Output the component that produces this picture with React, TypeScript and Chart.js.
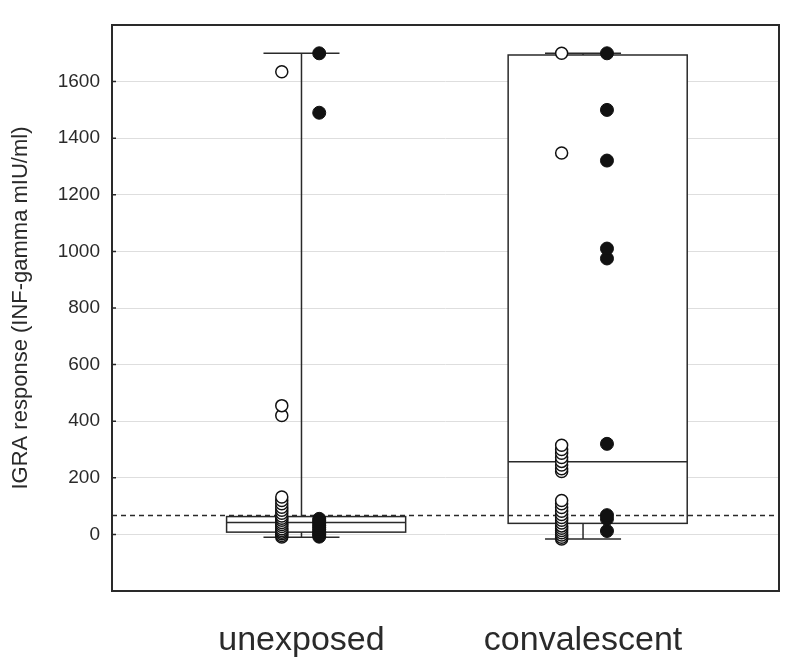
import React, { useEffect, useRef } from "react";
import { Chart, registerables } from "chart.js";

Chart.register(...registerables);

// ---- data ----
const CATEGORIES = ["unexposed", "convalescent"];
const Y_TICKS = [0, 200, 400, 600, 800, 1000, 1200, 1400, 1600];

const UNEXPOSED_OPEN = [-9, -4, 2, 8, 14, 20, 28, 35, 42, 50, 57, 65, 75, 85, 96, 108, 120, 132, 420, 455, 1635];
const UNEXPOSED_FILLED = [-8, -2, 4, 10, 18, 25, 32, 40, 48, 55, 1490, 1700];
const CONVALESCENT_OPEN = [-16, -10, -2, 6, 14, 22, 30, 40, 50, 60, 70, 82, 95, 108, 120, 222, 232, 245, 258, 272, 287, 300, 315, 1348, 1700];
const CONVALESCENT_FILLED = [12, 55, 68, 320, 975, 1010, 1321, 1500, 1700];

const BOX_Q1 = [8, 39];
const BOX_MEDIAN = [42, 257];
const BOX_Q3 = [63, 1694];
const WHISKER_LOW = [-10, -16];
const WHISKER_HIGH = [1700, 1700];
const CUTOFF = 67;

// ---- layout constants (in x-scale units relative to category centre) ----
const OPEN_OFFSET = [-0.07, -0.076];
const FILLED_OFFSET = [0.063, 0.085];
const BOX_LEFT = -0.266;
const BOX_RIGHT = 0.37;
const CAP_HALF = 0.135;

const INK = "#2a2a2a";
const FONT = "'Liberation Sans', Arial, sans-serif";

const boxPlugin = {
  id: "boxes",
  beforeDatasetsDraw(chart: any) {
    const { ctx, chartArea, scales } = chart;
    const x = scales.x;
    const y = scales.y;
    ctx.save();
    ctx.strokeStyle = INK;
    ctx.lineWidth = 1.5;
    CATEGORIES.forEach((_c, i) => {
      const c = i + 1;
      const xc = x.getPixelForValue(c);
      const xl = x.getPixelForValue(c + BOX_LEFT);
      const xr = x.getPixelForValue(c + BOX_RIGHT);
      const capL = x.getPixelForValue(c - CAP_HALF);
      const capR = x.getPixelForValue(c + CAP_HALF);
      const yq1 = y.getPixelForValue(BOX_Q1[i]);
      const yq3 = y.getPixelForValue(BOX_Q3[i]);
      const ymed = y.getPixelForValue(BOX_MEDIAN[i]);
      const ylo = y.getPixelForValue(WHISKER_LOW[i]);
      const yhi = y.getPixelForValue(WHISKER_HIGH[i]);
      // box
      ctx.fillStyle = "#ffffff";
      ctx.fillRect(xl, yq3, xr - xl, yq1 - yq3);
      ctx.strokeRect(xl, yq3, xr - xl, yq1 - yq3);
      // median
      ctx.beginPath();
      ctx.moveTo(xl, ymed);
      ctx.lineTo(xr, ymed);
      ctx.stroke();
      // whiskers
      ctx.beginPath();
      ctx.moveTo(xc, yhi);
      ctx.lineTo(xc, yq3);
      ctx.moveTo(xc, yq1);
      ctx.lineTo(xc, ylo);
      ctx.moveTo(capL, yhi);
      ctx.lineTo(capR, yhi);
      ctx.moveTo(capL, ylo);
      ctx.lineTo(capR, ylo);
      ctx.stroke();
    });
    // cutoff dashed line
    const yc = y.getPixelForValue(CUTOFF);
    ctx.setLineDash([5, 4]);
    ctx.beginPath();
    ctx.moveTo(chartArea.left, yc);
    ctx.lineTo(chartArea.right, yc);
    ctx.stroke();
    ctx.restore();
  },
  afterDatasetsDraw(chart: any) {
    const { ctx, chartArea, scales } = chart;
    const y = scales.y;
    ctx.save();
    ctx.strokeStyle = INK;
    ctx.lineWidth = 2;
    ctx.strokeRect(chartArea.left, chartArea.top, chartArea.right - chartArea.left, chartArea.bottom - chartArea.top);
    ctx.lineWidth = 1.5;
    ctx.beginPath();
    y.ticks.forEach((t: any) => {
      const py = y.getPixelForValue(t.value);
      ctx.moveTo(chartArea.left, py);
      ctx.lineTo(chartArea.left + 4, py);
    });
    ctx.stroke();
    ctx.restore();
  },
};

export default function App() {
  const ref = useRef<HTMLCanvasElement>(null);
  useEffect(() => {
    if (!ref.current) return;
    const mk = (vals: number[], i: number, off: number[]) =>
      vals.map((v) => ({ x: i + 1 + off[i], y: v }));
    const chart = new Chart(ref.current, {
      type: "scatter",
      data: {
        datasets: [
          {
            label: "open",
            data: [
              ...mk(UNEXPOSED_OPEN, 0, OPEN_OFFSET),
              ...mk(CONVALESCENT_OPEN, 1, OPEN_OFFSET),
            ],
            pointRadius: 6,
            pointBackgroundColor: "#ffffff",
            pointBorderColor: "#111111",
            pointBorderWidth: 1.5,
          },
          {
            label: "filled",
            data: [
              ...mk(UNEXPOSED_FILLED, 0, FILLED_OFFSET),
              ...mk(CONVALESCENT_FILLED, 1, FILLED_OFFSET),
            ],
            pointRadius: 6.5,
            pointBackgroundColor: "#111111",
            pointBorderColor: "#111111",
            pointBorderWidth: 1,
          },
        ],
      },
      options: {
        animation: false,
        responsive: false,
        layout: { padding: { top: 25, right: 17, left: 0, bottom: 0 } },
        plugins: { legend: { display: false }, tooltip: { enabled: false } },
        scales: {
          x: {
            type: "linear",
            min: 0.327,
            max: 2.696,
            grid: { display: false, drawTicks: false },
            border: { display: false },
            afterBuildTicks: (s: any) => {
              s.ticks = CATEGORIES.map((_c, i) => ({ value: i + 1 }));
            },
            afterFit: (s: any) => {
              s.height = 77;
            },
            ticks: {
              autoSkip: false,
              maxRotation: 0,
              padding: 29,
              color: "#2a2a2a",
              font: { family: FONT, size: 34 },
              callback: (v: any) => CATEGORIES[Math.round(Number(v)) - 1] ?? "",
            },
          },
          y: {
            type: "linear",
            min: -200,
            max: 1800,
            grid: { color: "#dedede", lineWidth: 1, drawTicks: false },
            border: { display: false },
            afterBuildTicks: (s: any) => {
              s.ticks = Y_TICKS.map((v) => ({ value: v }));
            },
            afterFit: (s: any) => {
              s.width = 112;
            },
            ticks: {
              padding: 12,
              color: "#2a2a2a",
              font: { family: FONT, size: 19 },
              callback: (v: any) => String(v),
            },
            title: {
              display: true,
              text: "IGRA response (INF-gamma mIU/ml)",
              color: "#2a2a2a",
              font: { family: FONT, size: 22 },
              padding: { top: 8, bottom: 0 },
            },
          },
        },
      },
      plugins: [boxPlugin],
    });
    return () => chart.destroy();
  }, []);
  return (
    <div style={{ position: "absolute", left: 0, top: 0, width: 796, height: 668, background: "#fff" }}>
      <canvas ref={ref} width={796} height={668} />
    </div>
  );
}
